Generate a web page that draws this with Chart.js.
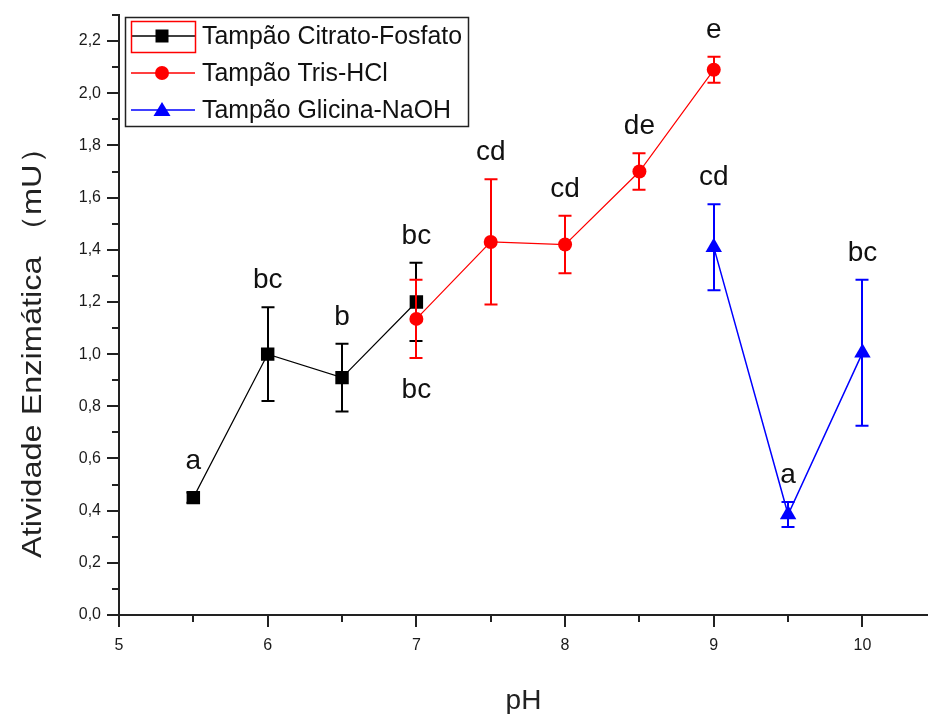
<!DOCTYPE html>
<html>
<head>
<meta charset="utf-8">
<script src="https://cdn.jsdelivr.net/npm/chart.js@4"></script>
<style>
html,body{margin:0;padding:0;background:#fff;overflow:hidden;}
canvas{display:block;}
</style>
</head>
<body>
<canvas id="c" width="928" height="714"></canvas>
<script>
// ---- data ----
const phCitrato = [5.5, 6, 6.5, 7];
const citrato = [0.45, 1.00, 0.91, 1.20];
const citratoErr = [0.02, 0.18, 0.13, 0.15];
const letrasCitrato = ['a', 'bc', 'b', 'bc'];

const phTris = [7, 7.5, 8, 8.5, 9];
const tris = [1.135, 1.43, 1.42, 1.70, 2.09];
const trisErr = [0.15, 0.24, 0.11, 0.07, 0.05];
const letrasTris = ['bc', 'cd', 'cd', 'de', 'e'];
const letrasTrisAbaixo = [true, false, false, false, false];

const phGlicina = [9, 9.5, 10];
const glicina = [1.41, 0.385, 1.005];
const glicinaErr = [0.165, 0.048, 0.28];
const letrasGlicina = ['cd', 'a', 'bc'];

const seriesNames = ['Tampão Citrato-Fosfato', 'Tampão Tris-HCl', 'Tampão Glicina-NaOH'];

const xMajorTicks = [5, 6, 7, 8, 9, 10];
const xMinorTicks = [5.5, 6.5, 7.5, 8.5, 9.5];
const yMajorTicks = [0, 0.2, 0.4, 0.6, 0.8, 1.0, 1.2, 1.4, 1.6, 1.8, 2.0, 2.2];
const yMinorTicks = [0.1, 0.3, 0.5, 0.7, 0.9, 1.1, 1.3, 1.5, 1.7, 1.9, 2.1, 2.3];

const xTitle = 'pH';
const yTitle = 'Atividade Enzimática （mU）';

// ---- helpers ----
const pts = (xs, ys) => xs.map((x, i) => ({x: x, y: ys[i]}));
const isIn = (arr, v) => arr.some(a => Math.abs(a - v) < 1e-6);
const FONT = '"Liberation Sans", Arial, sans-serif';
const AXIS = '#222';

const seriesInfo = [
  {xs: phCitrato, ys: citrato, err: citratoErr, letters: letrasCitrato, below: null, color: '#000000', style: 'rect'},
  {xs: phTris, ys: tris, err: trisErr, letters: letrasTris, below: letrasTrisAbaixo, color: '#ff0000', style: 'circle'},
  {xs: phGlicina, ys: glicina, err: glicinaErr, letters: letrasGlicina, below: null, color: '#0000ff', style: 'triangle'}
];

function drawMarker(ctx, style, x, y, color) {
  ctx.save();
  ctx.fillStyle = color;
  ctx.beginPath();
  if (style === 'rect') {
    ctx.rect(x - 6.5, y - 6.5, 13, 13);
  } else if (style === 'circle') {
    ctx.arc(x, y, 7, 0, Math.PI * 2);
  } else {
    ctx.moveTo(x, y - 8);
    ctx.lineTo(x + 8.5, y + 6);
    ctx.lineTo(x - 8.5, y + 6);
    ctx.closePath();
  }
  ctx.fill();
  ctx.restore();
}

const customPlugin = {
  id: 'custom',
  afterDatasetDraw(chart, args) {
    const s = seriesInfo[args.index];
    const ctx = chart.ctx;
    const xs = chart.scales.x, ys = chart.scales.y;
    ctx.save();
    ctx.strokeStyle = s.color;
    ctx.lineWidth = 2;
    s.xs.forEach((xv, i) => {
      const px = Math.round(xs.getPixelForValue(xv));
      const top = ys.getPixelForValue(s.ys[i] + s.err[i]);
      const bot = ys.getPixelForValue(s.ys[i] - s.err[i]);
      ctx.beginPath();
      ctx.moveTo(px, top); ctx.lineTo(px, bot);
      ctx.moveTo(px - 6.5, top); ctx.lineTo(px + 6.5, top);
      ctx.moveTo(px - 6.5, bot); ctx.lineTo(px + 6.5, bot);
      ctx.stroke();
    });
    ctx.restore();
  },
  afterDraw(chart) {
    const ctx = chart.ctx;
    const xs = chart.scales.x, ys = chart.scales.y;
    const area = chart.chartArea;
    ctx.save();
    // axes
    ctx.strokeStyle = AXIS;
    ctx.lineWidth = 2;
    ctx.beginPath();
    ctx.moveTo(area.left, area.top - 1);
    ctx.lineTo(area.left, area.bottom);
    ctx.lineTo(chart.width, area.bottom);
    ctx.stroke();
    // x ticks (outward, below)
    ctx.beginPath();
    xMajorTicks.forEach(v => { const p = Math.round(xs.getPixelForValue(v)); ctx.moveTo(p, area.bottom); ctx.lineTo(p, area.bottom + 12); });
    xMinorTicks.forEach(v => { const p = Math.round(xs.getPixelForValue(v)); ctx.moveTo(p, area.bottom); ctx.lineTo(p, area.bottom + 7); });
    // y ticks (outward, left)
    yMajorTicks.forEach(v => { const p = Math.round(ys.getPixelForValue(v)); ctx.moveTo(area.left, p); ctx.lineTo(area.left - 12, p); });
    yMinorTicks.forEach(v => { const p = Math.round(ys.getPixelForValue(v)); ctx.moveTo(area.left, p); ctx.lineTo(area.left - 7, p); });
    ctx.stroke();

    // letters
    ctx.fillStyle = '#111';
    ctx.font = '28px ' + FONT;
    ctx.textAlign = 'center';
    seriesInfo.forEach(s => {
      s.xs.forEach((xv, i) => {
        const px = xs.getPixelForValue(xv);
        const pv = ys.getPixelForValue(s.ys[i]);
        ctx.textBaseline = 'alphabetic';
        if (s.below && s.below[i]) {
          const bot = Math.max(ys.getPixelForValue(s.ys[i] - s.err[i]), pv + 8);
          ctx.fillText(s.letters[i], px, bot + 40);
        } else {
          const top = Math.min(ys.getPixelForValue(s.ys[i] + s.err[i]), pv - 10);
          ctx.fillText(s.letters[i], px, top - 19);
        }
      });
    });

    // axis titles
    ctx.fillStyle = '#222';
    ctx.font = '28px ' + FONT;
    ctx.textAlign = 'center';
    ctx.textBaseline = 'middle';
    ctx.fillText(xTitle, (area.left + chart.width) / 2, 701);
    ctx.save();
    ctx.translate(33, 558);
    ctx.rotate(-Math.PI / 2);
    ctx.scale(1.16, 1);
    ctx.font = '28px ' + FONT;
    ctx.textAlign = 'left';
    ctx.fillText(yTitle, 0, 0);
    ctx.restore();

    // legend
    ctx.strokeStyle = '#222';
    ctx.lineWidth = 1.5;
    ctx.strokeRect(125.5, 17.5, 343, 109);
    const rows = [36, 73, 110];
    seriesInfo.forEach((s, i) => {
      const y = rows[i];
      ctx.strokeStyle = s.color;
      ctx.lineWidth = 1.5;
      ctx.beginPath(); ctx.moveTo(131, y); ctx.lineTo(195, y); ctx.stroke();
      drawMarker(ctx, s.style, 162, y, s.color);
      ctx.fillStyle = '#111';
      ctx.font = '24.9px ' + FONT;
      ctx.textAlign = 'left';
      ctx.textBaseline = 'middle';
      ctx.fillText(seriesNames[i], 202, y + 1);
    });
    ctx.strokeStyle = '#ff0000';
    ctx.lineWidth = 1.5;
    ctx.strokeRect(131.5, 21.5, 64, 31);
    ctx.restore();
  }
};

const datasets = seriesInfo.map((s, i) => ({
  label: seriesNames[i],
  data: pts(s.xs, s.ys),
  borderColor: s.color,
  backgroundColor: s.color,
  borderWidth: i === 2 ? 1.5 : 1.2,
  pointStyle: s.style,
  pointRadius: s.style === 'rect' ? 9.5 : (s.style === 'circle' ? 7 : 9.5),
  pointBorderWidth: 0,
  tension: 0,
  order: 3 - i
}));

new Chart(document.getElementById('c'), {
  type: 'line',
  data: {datasets: datasets},
  options: {
    responsive: false,
    animation: false,
    devicePixelRatio: 1,
    layout: {padding: {top: 15, left: 0, right: 0, bottom: 0}},
    plugins: {legend: {display: false}, tooltip: {enabled: false}},
    scales: {
      x: {
        type: 'linear',
        min: 5,
        max: 10.377,
        grid: {display: false, drawTicks: false},
        border: {display: false},
        afterBuildTicks: sc => { sc.ticks = xMajorTicks.map(v => ({value: v})); },
        afterFit: sc => { sc.height = 99; sc.paddingLeft = 0; sc.paddingRight = 0; },
        ticks: {
          padding: 21,
          color: '#1a1a1a',
          font: {size: 16, family: FONT},
          maxRotation: 0,
          autoSkip: false,
          callback: v => isIn(xMajorTicks, v) ? String(v) : ''
        }
      },
      y: {
        type: 'linear',
        min: 0,
        max: 2.3,
        grid: {display: false, drawTicks: false},
        border: {display: false},
        afterBuildTicks: sc => { sc.ticks = yMajorTicks.map(v => ({value: v})); },
        afterFit: sc => { sc.width = 119; sc.paddingTop = 0; sc.paddingBottom = 0; },
        ticks: {
          padding: 18,
          color: '#1a1a1a',
          font: {size: 16, family: FONT},
          autoSkip: false,
          callback: v => isIn(yMajorTicks, v) ? v.toFixed(1).replace('.', ',') : ''
        }
      }
    }
  },
  plugins: [customPlugin]
});
</script>
</body>
</html>
